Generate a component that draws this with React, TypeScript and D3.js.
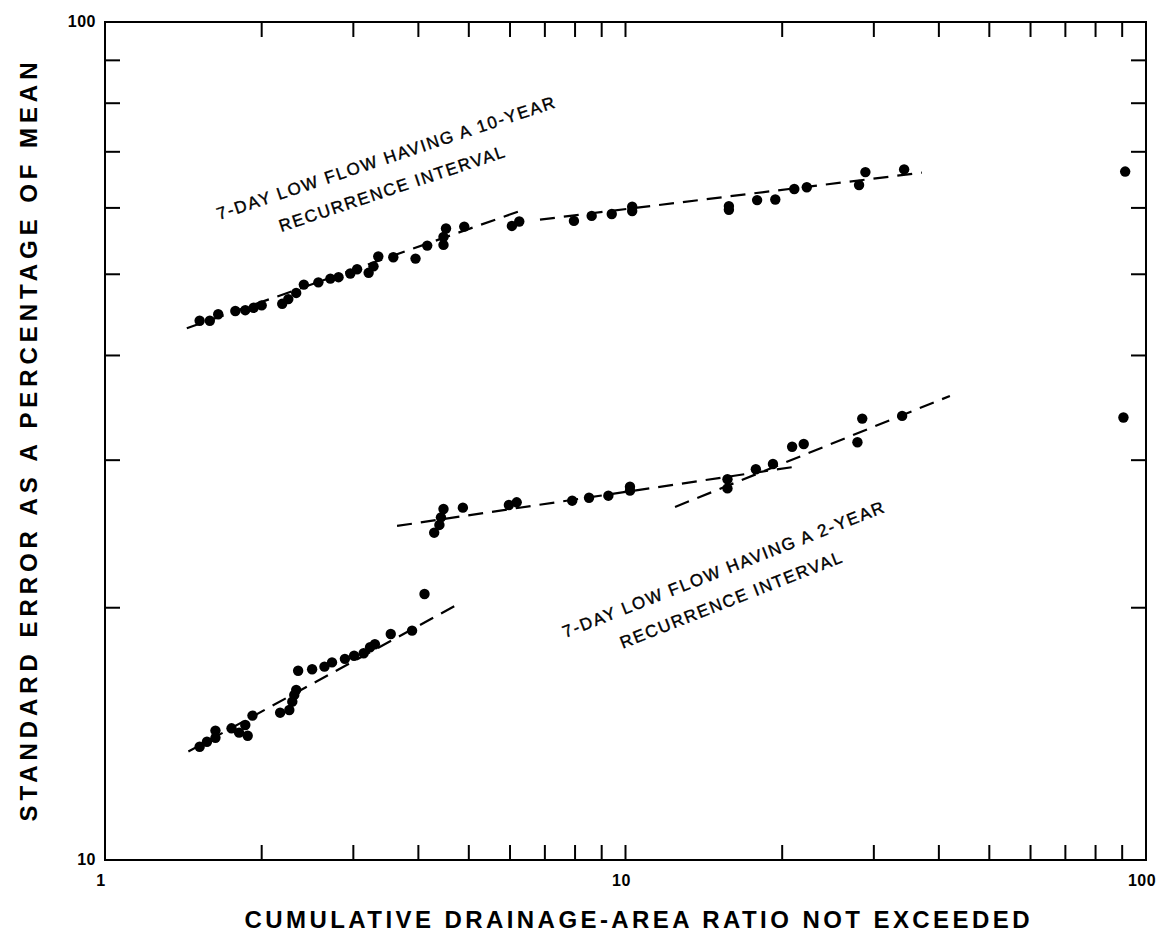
import React from 'react';
import * as d3 from 'd3';

// 7-day low flow, 10-year recurrence interval
const tenYearRatio = [1.52, 1.59, 1.65, 1.78, 1.86, 1.93, 2.0, 2.19, 2.25, 2.33, 2.41, 2.57, 2.71, 2.81, 2.96, 3.05, 3.21, 3.28, 3.35, 3.58, 3.95, 4.16, 4.47, 4.47, 4.52, 4.9, 6.05, 6.25, 7.96, 8.61, 9.41, 10.3, 10.3, 15.8, 15.8, 17.9, 19.4, 21.1, 22.3, 28.1, 28.9, 34.3, 91.2];
const tenYearError = [44.0, 44.0, 44.8, 45.2, 45.3, 45.6, 45.9, 46.1, 46.7, 47.5, 48.6, 48.9, 49.4, 49.6, 50.1, 50.7, 50.2, 51.1, 52.5, 52.4, 52.2, 54.1, 54.2, 55.4, 56.7, 57.0, 57.1, 57.8, 57.9, 58.7, 59.0, 59.5, 60.2, 59.7, 60.3, 61.3, 61.4, 63.2, 63.5, 63.9, 66.2, 66.7, 66.3];

// 7-day low flow, 2-year recurrence interval
const twoYearRatio = [1.52, 1.57, 1.63, 1.63, 1.75, 1.81, 1.86, 1.88, 1.92, 2.17, 2.26, 2.29, 2.31, 2.33, 2.35, 2.5, 2.64, 2.73, 2.89, 3.01, 3.14, 3.23, 3.3, 3.54, 3.89, 4.11, 4.29, 4.39, 4.42, 4.47, 4.87, 5.97, 6.18, 7.9, 8.51, 9.27, 10.2, 10.2, 15.7, 15.7, 17.8, 19.2, 20.9, 22.0, 27.9, 28.5, 34.0, 90.5];
const twoYearError = [13.65, 13.84, 13.99, 14.27, 14.36, 14.19, 14.49, 14.07, 14.87, 14.99, 15.1, 15.45, 15.74, 15.96, 16.82, 16.89, 17.01, 17.21, 17.38, 17.53, 17.65, 17.94, 18.09, 18.61, 18.78, 20.77, 24.58, 25.11, 25.64, 26.23, 26.33, 26.52, 26.72, 26.84, 27.06, 27.21, 27.59, 27.89, 28.47, 27.76, 29.26, 29.69, 31.13, 31.36, 31.51, 33.63, 33.88, 33.73];

// dashed fitted segments: [ratio1, error1, ratio2, error2]
const tenYearTrends = [
  [1.436, 43.1, 6.27, 59.5],
  [6.85, 58.1, 37.1, 66.1],
];
const twoYearTrends = [
  [1.446, 13.47, 4.70, 20.1],
  [3.64, 25.04, 20.98, 29.44],
  [12.45, 26.38, 42.0, 35.79],
];

const xTickValues = [2, 3, 4, 5, 6, 7, 8, 9, 10, 20, 30, 40, 50, 60, 70, 80, 90];
const yTickValues = [20, 30, 40, 50, 60, 70, 80, 90];
const xTickLabels = ['1', '10', '100'];
const yTickLabels = ['10', '100'];

const labels = [
  { lines: ['7-DAY LOW FLOW HAVING A 10-YEAR', 'RECURRENCE INTERVAL'], ratio: 3.5, error: 67.8, angle: -18.5 },
  { lines: ['7-DAY LOW FLOW HAVING A 2-YEAR', 'RECURRENCE INTERVAL'], ratio: 15.6, error: 21.9, angle: -21.5 },
];

const W = 1159;
const H = 936;
const left = 105, right = 1146, top = 22, bottom = 860;
const tick = 15;
const font = '"Liberation Sans", Arial, Helvetica, sans-serif';

export default function App() {
  const x = d3.scaleLog().domain([1, 100]).range([left, right]);
  const y = d3.scaleLog().domain([10, 100]).range([bottom, top]);

  const tenPts = tenYearRatio.map((r, i) => [r, tenYearError[i]]);
  const twoPts = twoYearRatio.map((r, i) => [r, twoYearError[i]]);
  const line = d3.line<number[]>().x(d => x(d[0])).y(d => y(d[1]));

  return (
    <svg width={W} height={H} style={{ position: 'absolute', left: 0, top: 0, background: '#fff' }}>
      {/* frame */}
      <rect x={left} y={top} width={right - left} height={bottom - top} fill="none" stroke="#000" strokeWidth={2} />

      {/* ticks, pointing inward on all four sides */}
      {xTickValues.map(v => (
        <g key={'xt' + v} stroke="#000" strokeWidth={2}>
          <line x1={x(v)} x2={x(v)} y1={bottom} y2={bottom - tick} />
          <line x1={x(v)} x2={x(v)} y1={top} y2={top + tick} />
        </g>
      ))}
      {yTickValues.map(v => (
        <g key={'yt' + v} stroke="#000" strokeWidth={2}>
          <line x1={left} x2={left + tick} y1={y(v)} y2={y(v)} />
          <line x1={right} x2={right - tick} y1={y(v)} y2={y(v)} />
        </g>
      ))}

      {/* tick labels */}
      <g fontFamily={font} fontWeight="bold" fontSize={16} letterSpacing={0.5}>
        {xTickLabels.map(t => (
          <text key={'xl' + t} x={x(+t) - 4} y={bottom + 26} textAnchor="middle">{t}</text>
        ))}
        {yTickLabels.map(t => (
          <text key={'yl' + t} x={left - 9} y={y(+t) + 5} textAnchor="end">{t}</text>
        ))}
      </g>

      {/* trend lines */}
      <g fill="none" stroke="#000" strokeWidth={2.2} strokeDasharray="15 9">
        {[...tenYearTrends, ...twoYearTrends].map((s, i) => (
          <path key={'tr' + i} d={line([[s[0], s[1]], [s[2], s[3]]]) || ''} />
        ))}
      </g>

      {/* points */}
      <g fill="#000">
        {tenPts.map((d, i) => <circle key={'a' + i} cx={x(d[0])} cy={y(d[1])} r={5.2} />)}
        {twoPts.map((d, i) => <circle key={'b' + i} cx={x(d[0])} cy={y(d[1])} r={5.2} />)}
      </g>

      {/* annotations */}
      {labels.map((l, i) => (
        <g key={'lab' + i} transform={`translate(${x(l.ratio)},${y(l.error)}) rotate(${l.angle})`}
          fontFamily={font} fontSize={17} letterSpacing={1.7} textAnchor="middle"
          stroke="#000" strokeWidth={0.4}>
          <text x={0} y={0}>{l.lines[0]}</text>
          <text x={-4} y={31}>{l.lines[1]}</text>
        </g>
      ))}

      {/* axis titles */}
      <text x={637} y={928} textAnchor="middle" fontFamily={font} fontWeight="bold" fontSize={24}
        textLength={785} lengthAdjust="spacing">CUMULATIVE DRAINAGE-AREA RATIO NOT EXCEEDED</text>
      <text transform="translate(37,442) rotate(-90)" textAnchor="middle" fontFamily={font} fontWeight="bold"
        fontSize={24} textLength={759} lengthAdjust="spacing">STANDARD ERROR AS A PERCENTAGE OF MEAN</text>
    </svg>
  );
}
